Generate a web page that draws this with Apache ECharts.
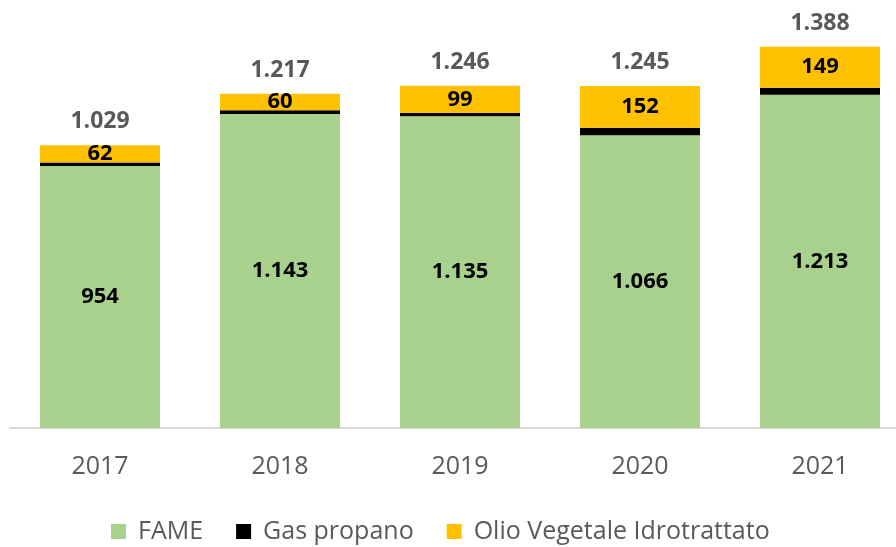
<!DOCTYPE html>
<html>
<head>
<meta charset="utf-8">
<style>
  html, body { margin: 0; padding: 0; background: #fff; }
  #chart { width: 896px; height: 547px; }
</style>
<script src="https://cdn.jsdelivr.net/npm/echarts@6/dist/echarts.min.js"></script>
</head>
<body>
<div id="chart"></div>
<script>
var years = ['2017', '2018', '2019', '2020', '2021'];
var fame = [954, 1143, 1135, 1066, 1213];
var gasPropano = [13, 14, 12, 27, 26];
var olioHvo = [62, 60, 99, 152, 149];

// totale sopra le barre (separatore migliaia all'italiana)
var fmt = function (v) {
    return String(v).replace(/\B(?=(\d{3})+(?!\d))/g, '.');
};
var totals = years.map(function (y, i) {
    return fame[i] + gasPropano[i] + olioHvo[i];
});

var FONT = '"Open Sans", "Noto Sans", sans-serif';
var myChart = echarts.init(document.getElementById('chart'));
var option = {
    animation: false,
    textStyle: { fontFamily: FONT },
    grid: { left: 10, width: 900, top: 16, bottom: 119, outerBoundsMode: 'none' },
    legend: {
        data: ['FAME', 'Gas propano', 'Olio Vegetale Idrotrattato'],
        left: 106,
        top: 514,
        itemWidth: 15,
        itemHeight: 15,
        itemGap: 33,
        icon: 'rect',
        textStyle: { fontSize: 25, color: '#595959', fontFamily: FONT, padding: [0, 0, 0, 7] }
    },
    xAxis: {
        type: 'category',
        data: years,
        axisLine: { lineStyle: { color: '#D9D9D9', width: 2 } },
        axisTick: { show: false },
        axisLabel: { fontSize: 25, color: '#595959', margin: 26, fontFamily: FONT }
    },
    yAxis: {
        type: 'value',
        min: 0,
        max: 1500,
        show: false,
        splitLine: { show: false }
    },
    series: [
        {
            name: 'FAME',
            type: 'bar',
            stack: 'tot',
            barWidth: 120,
            itemStyle: { color: '#A9D18E' },
            label: {
                show: true, position: 'inside', color: '#000', fontWeight: 'bold', fontSize: 22,
                fontFamily: FONT,
                formatter: function (p) { return fmt(p.value); }
            },
            data: fame
        },
        {
            name: 'Gas propano',
            type: 'bar',
            stack: 'tot',
            itemStyle: { color: '#000000' },
            data: gasPropano
        },
        {
            name: 'Olio Vegetale Idrotrattato',
            type: 'bar',
            stack: 'tot',
            itemStyle: { color: '#FFC000' },
            label: {
                show: true, position: 'inside', color: '#000', fontWeight: 'bold', fontSize: 22,
                fontFamily: FONT
            },
            data: olioHvo
        },
        {
            name: 'Totale',
            type: 'bar',
            stack: 'tot',
            itemStyle: { color: 'transparent' },
            label: {
                show: true, position: 'top', distance: 12, color: '#595959', fontWeight: 'bold', fontSize: 23,
                fontFamily: FONT,
                formatter: function (p) { return fmt(totals[p.dataIndex]); }
            },
            data: years.map(function () { return 0; })
        }
    ]
};
myChart.setOption(option);
</script>
</body>
</html>
